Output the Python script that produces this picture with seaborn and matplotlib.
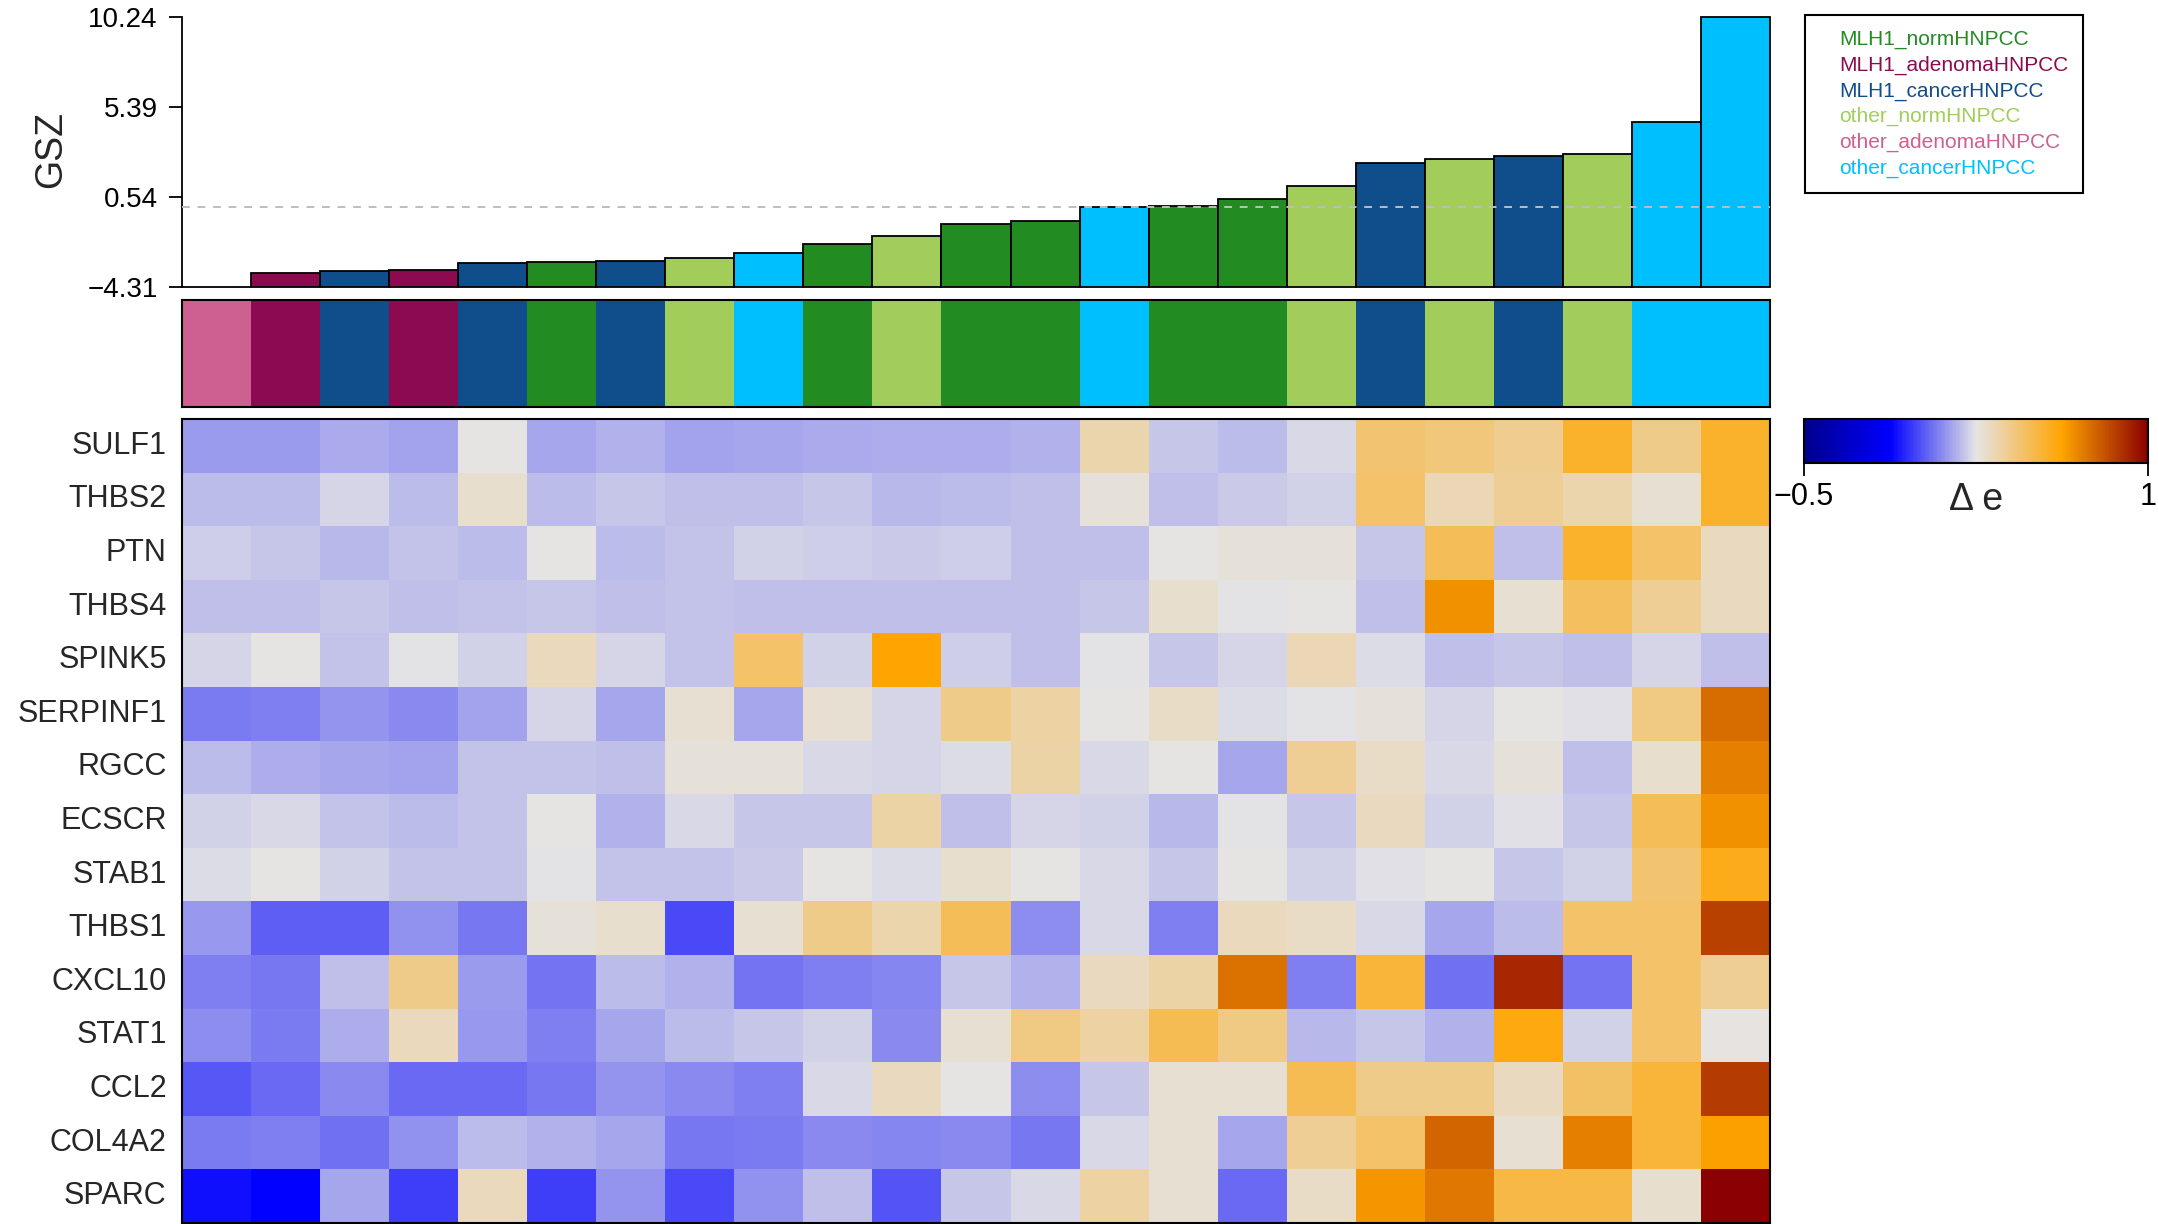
import numpy as np
import matplotlib
matplotlib.use('Agg')
import matplotlib.pyplot as plt
import seaborn as sns
from matplotlib.colors import LinearSegmentedColormap, ListedColormap

# ---- data ----
group_names = ['MLH1_normHNPCC', 'MLH1_adenomaHNPCC', 'MLH1_cancerHNPCC',
               'other_normHNPCC', 'other_adenomaHNPCC', 'other_cancerHNPCC']
group_colors = ['#228B22', '#8B0A50', '#104E8B', '#A2CD5A', '#CD6090', '#00BFFF']

sample_groups = ['other_adenomaHNPCC', 'MLH1_adenomaHNPCC', 'MLH1_cancerHNPCC', 'MLH1_adenomaHNPCC',
                 'MLH1_cancerHNPCC', 'MLH1_normHNPCC', 'MLH1_cancerHNPCC', 'other_normHNPCC',
                 'other_cancerHNPCC', 'MLH1_normHNPCC', 'other_normHNPCC', 'MLH1_normHNPCC',
                 'MLH1_normHNPCC', 'other_cancerHNPCC', 'MLH1_normHNPCC', 'MLH1_normHNPCC',
                 'other_normHNPCC', 'MLH1_cancerHNPCC', 'other_normHNPCC', 'MLH1_cancerHNPCC',
                 'other_normHNPCC', 'other_cancerHNPCC', 'other_cancerHNPCC']

gsz = [-4.31, -3.57, -3.43, -3.39, -3.03, -2.95, -2.91, -2.76, -2.46, -2.01, -1.56, -0.93,
       -0.75, 0.02, 0.06, 0.42, 1.13, 2.39, 2.57, 2.77, 2.86, 4.60, 10.24]

genes = ['SULF1', 'THBS2', 'PTN', 'THBS4', 'SPINK5', 'SERPINF1', 'RGCC', 'ECSCR',
         'STAB1', 'THBS1', 'CXCL10', 'STAT1', 'CCL2', 'COL4A2', 'SPARC']

sulf1 = [0.13, 0.13, 0.155, 0.14, 0.25, 0.15, 0.165, 0.14, 0.145, 0.155, 0.16, 0.16,
         0.165, 0.34, 0.20, 0.185, 0.23, 0.44, 0.42, 0.39, 0.55, 0.40, 0.55]
thbs2 = [0.18, 0.18, 0.225, 0.18, 0.29, 0.18, 0.20, 0.19, 0.19, 0.20, 0.175, 0.18,
         0.19, 0.27, 0.19, 0.205, 0.22, 0.45, 0.33, 0.38, 0.34, 0.28, 0.55]
ptn = [0.21, 0.20, 0.175, 0.195, 0.185, 0.25, 0.18, 0.195, 0.22, 0.21, 0.205, 0.21,
       0.19, 0.19, 0.255, 0.27, 0.27, 0.20, 0.48, 0.19, 0.55, 0.45, 0.31]
thbs4 = [0.19, 0.19, 0.20, 0.19, 0.195, 0.20, 0.19, 0.195, 0.19, 0.19, 0.19, 0.19,
         0.19, 0.20, 0.29, 0.245, 0.255, 0.19, 0.67, 0.28, 0.47, 0.38, 0.31]
spink5 = [0.225, 0.25, 0.195, 0.245, 0.215, 0.32, 0.225, 0.195, 0.45, 0.215, 0.62, 0.21,
          0.19, 0.245, 0.20, 0.225, 0.33, 0.235, 0.19, 0.20, 0.19, 0.225, 0.19]
serpinf1 = [0.077, 0.085, 0.12, 0.10, 0.14, 0.225, 0.15, 0.28, 0.15, 0.28, 0.225, 0.40,
            0.36, 0.25, 0.30, 0.235, 0.245, 0.27, 0.225, 0.25, 0.24, 0.41, 0.75]
rgcc = [0.18, 0.16, 0.15, 0.14, 0.195, 0.195, 0.19, 0.27, 0.27, 0.23, 0.225, 0.235,
        0.35, 0.23, 0.25, 0.145, 0.38, 0.30, 0.23, 0.27, 0.19, 0.29, 0.71]
ecscr = [0.22, 0.23, 0.195, 0.18, 0.195, 0.25, 0.165, 0.23, 0.20, 0.20, 0.35, 0.19,
         0.225, 0.215, 0.175, 0.245, 0.20, 0.31, 0.22, 0.24, 0.20, 0.48, 0.67]
stab1 = [0.235, 0.25, 0.22, 0.195, 0.195, 0.245, 0.195, 0.195, 0.205, 0.25, 0.235, 0.29,
         0.255, 0.23, 0.20, 0.25, 0.22, 0.24, 0.25, 0.20, 0.215, 0.44, 0.58]
thbs1 = [0.125, 0.03, 0.03, 0.11, 0.07, 0.27, 0.29, -0.005, 0.28, 0.40, 0.34, 0.48,
         0.105, 0.23, 0.085, 0.32, 0.30, 0.23, 0.15, 0.185, 0.45, 0.45, 0.85]
cxcl10 = [0.085, 0.07, 0.19, 0.40, 0.13, 0.065, 0.18, 0.165, 0.065, 0.085, 0.095, 0.20,
          0.165, 0.31, 0.35, 0.74, 0.085, 0.53, 0.06, 0.91, 0.065, 0.45, 0.38]
stat1 = [0.105, 0.077, 0.16, 0.32, 0.125, 0.085, 0.145, 0.18, 0.20, 0.215, 0.10, 0.28,
         0.41, 0.36, 0.49, 0.41, 0.175, 0.20, 0.165, 0.60, 0.22, 0.45, 0.26]
ccl2 = [0.02, 0.045, 0.10, 0.05, 0.05, 0.07, 0.12, 0.10, 0.085, 0.23, 0.31, 0.25,
        0.105, 0.20, 0.28, 0.28, 0.49, 0.40, 0.40, 0.31, 0.46, 0.53, 0.86]
col4a2 = [0.077, 0.085, 0.06, 0.11, 0.18, 0.165, 0.145, 0.07, 0.077, 0.10, 0.095, 0.10,
          0.07, 0.23, 0.28, 0.145, 0.38, 0.45, 0.77, 0.28, 0.71, 0.53, 0.635]
sparc = [-0.10, -0.125, 0.15, -0.02, 0.32, -0.025, 0.12, -0.005, 0.11, 0.19, 0.01, 0.20,
         0.23, 0.36, 0.28, 0.045, 0.30, 0.66, 0.73, 0.51, 0.51, 0.29, 1.0]

delta_e = np.array([sulf1, thbs2, ptn, thbs4, spink5, serpinf1, rgcc, ecscr,
                    stab1, thbs1, cxcl10, stat1, ccl2, col4a2, sparc])

# ---- style ----
sns.set_theme(style='white')
plt.rcParams['font.family'] = ['Liberation Sans', 'DejaVu Sans']

W, H = 2158, 1224
fig = plt.figure(figsize=(W / 100, H / 100), dpi=100)

def px_axes(x0, y0, x1, y1):
    # pixel box (top-left origin) -> figure axes
    return fig.add_axes([x0 / W, 1 - y1 / H, (x1 - x0) / W, (y1 - y0) / H])

ax_bar = px_axes(182, 17, 1770, 287)
ax_strip = px_axes(182, 300, 1770, 407)
ax_heat = px_axes(182, 419, 1770, 1223)
ax_leg = px_axes(1805, 15, 2083, 193)
ax_cbar = px_axes(1804, 419, 2148, 463)

group_idx = [group_names.index(g) for g in sample_groups]
bar_colors = [group_colors[i] for i in group_idx]

# ---- GSZ bars ----
gsz_arr = np.array(gsz)
ymin, ymax = gsz_arr.min(), gsz_arr.max()
xs = np.arange(len(gsz))
ax_bar.bar(xs, gsz_arr - ymin, bottom=ymin, width=1.0, color=bar_colors,
           edgecolor='black', linewidth=1.3, clip_on=False)
ax_bar.axhline(0, color='#BEBEBE', linestyle=(0, (4, 4)), linewidth=1.4, zorder=5)
ax_bar.set_xlim(-0.5, len(gsz) - 0.5)
ax_bar.set_ylim(ymin, ymax)
yt = np.linspace(ymin, ymax, 4)
ax_bar.set_yticks(yt)
ax_bar.set_yticklabels([f'{v:.2f}'.replace('-', '\u2212') for v in yt])
ax_bar.set_xticks([])
for s in ['top', 'right', 'bottom']:
    ax_bar.spines[s].set_visible(False)
ax_bar.spines['left'].set_color('black')
ax_bar.spines['left'].set_linewidth(1.3)
ax_bar.tick_params(axis='y', left=True, length=9.4, width=1.3, labelsize=20, pad=8, colors='black')
fig.text(51 / W, 1 - 150 / H, 'GSZ', rotation=90, ha='center', va='center', fontsize=27)

# ---- group colour strip ----
sns.heatmap(np.array([group_idx]), cmap=ListedColormap(group_colors), vmin=-0.5, vmax=5.5,
            cbar=False, xticklabels=False, yticklabels=False, ax=ax_strip)
for s in ax_strip.spines.values():
    s.set_visible(True)
    s.set_color('black')
    s.set_linewidth(1.5)

# ---- expression heatmap ----
cmap = LinearSegmentedColormap.from_list(
    'de', ['#00008B', '#0000FF', '#E5E5E5', '#FFA500', '#8B0000'])
sns.heatmap(delta_e, cmap=cmap, vmin=-0.5, vmax=1, ax=ax_heat, cbar_ax=ax_cbar,
            cbar_kws={'orientation': 'horizontal', 'ticks': [-0.5, 1]},
            xticklabels=False, yticklabels=genes, linewidths=0)
ax_heat.tick_params(axis='y', length=0, labelsize=22, pad=11, rotation=0)
for s in ax_heat.spines.values():
    s.set_visible(True)
    s.set_color('black')
    s.set_linewidth(1.5)

cbar = ax_heat.collections[0].colorbar
cbar.outline.set_edgecolor('black')
cbar.outline.set_linewidth(1.5)
cbar.ax.set_xticklabels(['\u22120.5', '1'])
cbar.ax.tick_params(axis='x', bottom=True, length=9.4, width=1.3, labelsize=22, pad=4, colors='black')
cbar.ax.text(0.5, -1.07, '\u0394 e', transform=cbar.ax.transAxes, ha='center', va='baseline', fontsize=27)

# ---- legend box ----
ax_leg.set_xticks([])
ax_leg.set_yticks([])
for s in ax_leg.spines.values():
    s.set_visible(True)
    s.set_color('black')
    s.set_linewidth(1.5)
leg_y = np.linspace(0.86, 0.14, len(group_names))
for name, col, yy in zip(group_names, group_colors, leg_y):
    ax_leg.text(0.122, yy, name, color=col, fontsize=15, ha='left', va='center',
                transform=ax_leg.transAxes)

fig.savefig('out.png', dpi=100)
